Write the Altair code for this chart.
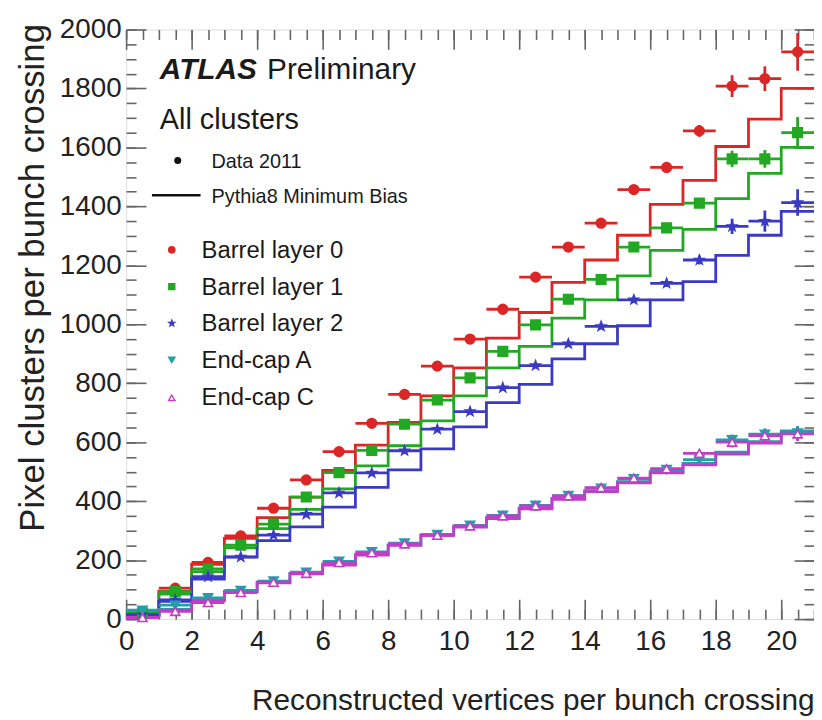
import altair as alt
import pandas as pd

# ---------------- data ----------------
bin_lo = list(range(21))                      # bins [k, k+1], k = 0..20
series = ["Barrel layer 0", "Barrel layer 1", "Barrel layer 2", "End-cap A", "End-cap C"]
colors = ["#dc2626", "#22a822", "#3a3ac4", "#22a0a8", "#c23cc8"]
fills = ["#dc2626", "#22a822", "#3a3ac4", "#22a0a8", "#ffffff"]

data_l0 = [22, 105, 192, 282, 376, 472, 568, 664, 762, 858, 950, 1051, 1160, 1262, 1343, 1457, 1532, 1656, 1808, 1833, 1924]
data_l1 = [20, 93, 170, 251, 322, 414, 497, 572, 661, 743, 818, 908, 998, 1085, 1152, 1262, 1327, 1411, 1561, 1561, 1650]
data_l2 = [15, 65, 144, 211, 285, 356, 428, 496, 571, 644, 704, 785, 860, 934, 993, 1083, 1139, 1218, 1332, 1350, 1413]
data_ea = [30, 47, 72, 97, 129, 159, 196, 228, 258, 287, 318, 352, 386, 419, 444, 476, 507, 541, 608, 627, 631]
data_ec = [5, 26, 56, 90, 125, 155, 192, 225, 255, 284, 316, 350, 384, 418, 446, 478, 510, 562, 600, 622, 628]

err_l0 = [4, 4, 4, 4, 4, 5, 5, 6, 6, 7, 8, 9, 10, 11, 12, 14, 16, 20, 37, 42, 64]
err_l1 = [4, 4, 4, 4, 4, 5, 5, 5, 6, 6, 7, 8, 9, 10, 11, 12, 14, 17, 28, 30, 53]
err_l2 = [3, 3, 3, 3, 4, 4, 5, 5, 5, 6, 6, 7, 8, 9, 10, 11, 12, 15, 26, 36, 45]
err_ea = [3, 3, 3, 3, 3, 3, 4, 4, 4, 4, 5, 5, 5, 6, 6, 7, 8, 9, 18, 20, 24]
err_ec = [3, 3, 3, 3, 3, 3, 4, 4, 4, 4, 5, 5, 5, 6, 6, 7, 8, 9, 18, 20, 24]

mc_l0 = [18, 95, 186, 274, 344, 414, 504, 590, 667, 757, 852, 953, 1040, 1142, 1218, 1302, 1407, 1488, 1603, 1696, 1800]
mc_l1 = [15, 85, 161, 242, 307, 372, 442, 520, 588, 672, 757, 852, 925, 1021, 1083, 1164, 1251, 1322, 1426, 1512, 1600]
mc_l2 = [12, 60, 136, 210, 266, 313, 380, 447, 506, 577, 652, 734, 796, 883, 934, 995, 1083, 1145, 1234, 1302, 1383]
mc_ea = [10, 33, 65, 94, 125, 155, 186, 219, 252, 286, 315, 344, 377, 409, 436, 466, 500, 528, 566, 602, 638]
mc_ec = [8, 30, 62, 92, 123, 153, 183, 217, 250, 284, 312, 341, 374, 406, 432, 462, 496, 523, 560, 597, 632]

x_major = [0, 2, 4, 6, 8, 10, 12, 14, 16, 18, 20]
y_major = [0, 200, 400, 600, 800, 1000, 1200, 1400, 1600, 1800, 2000]

# ---------------- tables ----------------
data_vals = [data_l0, data_l1, data_l2, data_ea, data_ec]
err_vals = [err_l0, err_l1, err_l2, err_ea, err_ec]
mc_vals = [mc_l0, mc_l1, mc_l2, mc_ea, mc_ec]

rows = []
for s, vals, errs in zip(series, data_vals, err_vals):
    for lo, v, e in zip(bin_lo, vals, errs):
        rows.append({"series": s, "lo": lo, "hi": lo + 1, "x": lo + 0.5,
                     "val": v, "elo": v - e, "ehi": v + e})
df_data = pd.DataFrame(rows)

mrows = []
for s, vals in zip(series, mc_vals):
    for lo, v in zip(bin_lo, vals):
        mrows.append({"series": s, "edge": lo, "val": v})
    mrows.append({"series": s, "edge": bin_lo[-1] + 1, "val": vals[-1]})
df_mc = pd.DataFrame(mrows)

# ---------------- geometry ----------------
W, H = 693, 594
XS = alt.Scale(domain=[0, 21], nice=False, zero=False)
YS = alt.Scale(domain=[0, 2000], nice=False, zero=False)
TICK = "#666666"
FONT = "Liberation Sans"

x_minor = [i * 0.5 for i in range(43)]
y_minor = [i * 50 for i in range(41)]


def ax(orient, values, size, labels=False, **kw):
    return alt.Axis(orient=orient, values=values, tickSize=size, offset=-size,
                    domain=False, grid=False, labels=labels, tickColor=TICK,
                    tickWidth=1.6, **kw)


x_bottom_major = ax("bottom", x_major, 20, labels=True, format="d",
                    labelFontSize=28, labelFont=FONT, labelColor="#222222",
                    labelPadding=9, labelFlush=False, labelOverlap=False,
                    title="Reconstructed vertices per bunch crossing",
                    titleFont=FONT, titleFontSize=30, titleFontWeight="normal",
                    titleColor="#222222", titleAlign="right", titleAnchor="end",
                    titleBaseline="alphabetic", titleX=W, titleY=111)
y_left_major = ax("left", y_major, 20, labels=True, format="d",
                  labelFontSize=28, labelFont=FONT, labelColor="#222222",
                  labelPadding=5, labelFlush=False, labelOverlap=False,
                  title="Pixel clusters per bunch crossing",
                  titleFont=FONT, titleFontSize=35, titleFontWeight="normal",
                  titleColor="#222222", titleAngle=270, titleAlign="right",
                  titleAnchor="end", titleBaseline="middle",
                  titleX=-114, titleY=-6)
x_bottom_minor = ax("bottom", x_minor, 10, title=None)
y_left_minor = ax("left", y_minor, 10, title=None)
x_top_major = ax("top", x_major, 20, title=None)
y_right_major = ax("right", y_major, 20, title=None)
x_top_minor = ax("top", x_minor, 10, title=None)
y_right_minor = ax("right", y_minor, 10, title=None)

color_scale = alt.Scale(domain=series, range=colors)

mc_layer = alt.Chart(df_mc).mark_line(interpolate="step-after", strokeWidth=2.8).encode(
    x=alt.X("edge:Q", scale=XS, axis=x_bottom_major),
    y=alt.Y("val:Q", scale=YS, axis=y_left_major),
    color=alt.Color("series:N", scale=color_scale, legend=None),
    detail="series:N",
)

xerr_layer = alt.Chart(df_data).mark_rule(strokeWidth=2.8).encode(
    x=alt.X("lo:Q", scale=XS, axis=x_bottom_minor),
    x2="hi:Q",
    y=alt.Y("val:Q", scale=YS, axis=y_left_minor),
    color=alt.Color("series:N", scale=color_scale, legend=None),
)

yerr_layer = alt.Chart(df_data).mark_rule(strokeWidth=2.8).encode(
    x=alt.X("x:Q", scale=XS, axis=x_top_major),
    y=alt.Y("elo:Q", scale=YS, axis=y_right_major),
    y2="ehi:Q",
    color=alt.Color("series:N", scale=color_scale, legend=None),
)

star = "M0,-1L0.24,-0.33L0.95,-0.31L0.38,0.12L0.59,0.81L0,0.4L-0.59,0.81L-0.38,0.12L-0.95,-0.31L-0.24,-0.33Z"
shapes = ["circle", "square", star, "triangle-down", "triangle-up"]
sizes = [95, 85, 55, 60, 60]

pt_layer = alt.Chart(df_data).mark_point(filled=True, opacity=1, strokeWidth=1.6).encode(
    x=alt.X("x:Q", scale=XS, axis=x_top_minor),
    y=alt.Y("val:Q", scale=YS, axis=y_right_minor),
    fill=alt.Fill("series:N", scale=alt.Scale(domain=series, range=fills), legend=None),
    stroke=alt.Stroke("series:N", scale=color_scale, legend=None),
    shape=alt.Shape("series:N", scale=alt.Scale(domain=series, range=shapes), legend=None),
    size=alt.Size("series:N", scale=alt.Scale(domain=series, range=sizes), legend=None),
)

# ---------------- in-plot labels and legend ----------------
one = pd.DataFrame({"k": [0]})


def txt(s, x, y, size, **kw):
    return alt.Chart(pd.DataFrame({"t": [s]})).mark_text(
        align="left", baseline="alphabetic", font=FONT, fontSize=size,
        color="#1a1a1a", **kw).encode(text="t:N", x=alt.value(x), y=alt.value(y))


texts = [
    txt("ATLAS", 34, 50, 30, fontWeight="bold", fontStyle="italic"),
    txt("Preliminary", 142, 50, 30),
    txt("All clusters", 34, 100, 29),
    txt("Data 2011", 86, 140, 20),
    txt("Pythia8 Minimum Bias", 86, 175, 20),
]
dot = alt.Chart(one).mark_point(shape="circle", filled=True, color="#111111", size=50, opacity=1).encode(
    x=alt.value(52), y=alt.value(132))
pyline = alt.Chart(one).mark_rule(color="#111111", strokeWidth=2.5).encode(
    x=alt.value(26), x2=alt.value(75), y=alt.value(167))

leg_y_sym = [222, 259, 296, 333, 371]
leg_y_txt = [230, 267, 304, 341, 378]
leg_sizes = [40, 36, 36, 40, 40]
legend_layers = []
for s, c, f, sh, sz, ys, yt in zip(series, colors, fills, shapes, leg_sizes, leg_y_sym, leg_y_txt):
    legend_layers.append(
        alt.Chart(one).mark_point(shape=sh, fill=f, stroke=c, strokeWidth=1.4,
                                  filled=True, size=sz, opacity=1).encode(
            x=alt.value(46), y=alt.value(ys)))
    legend_layers.append(txt(s, 76, yt, 24))

chart = alt.layer(mc_layer, xerr_layer, yerr_layer, pt_layer, *texts, dot, pyline,
                  *legend_layers).resolve_axis(x="independent", y="independent").properties(
    width=W, height=H,
    autosize=alt.AutoSizeParams(type="none"),
    padding={"left": 119, "top": 19, "right": 0, "bottom": 95},
).configure_view(stroke="#777777", strokeWidth=2).configure(background="white")

chart.save("out.html", embed_options={"renderer": "svg", "actions": False})
